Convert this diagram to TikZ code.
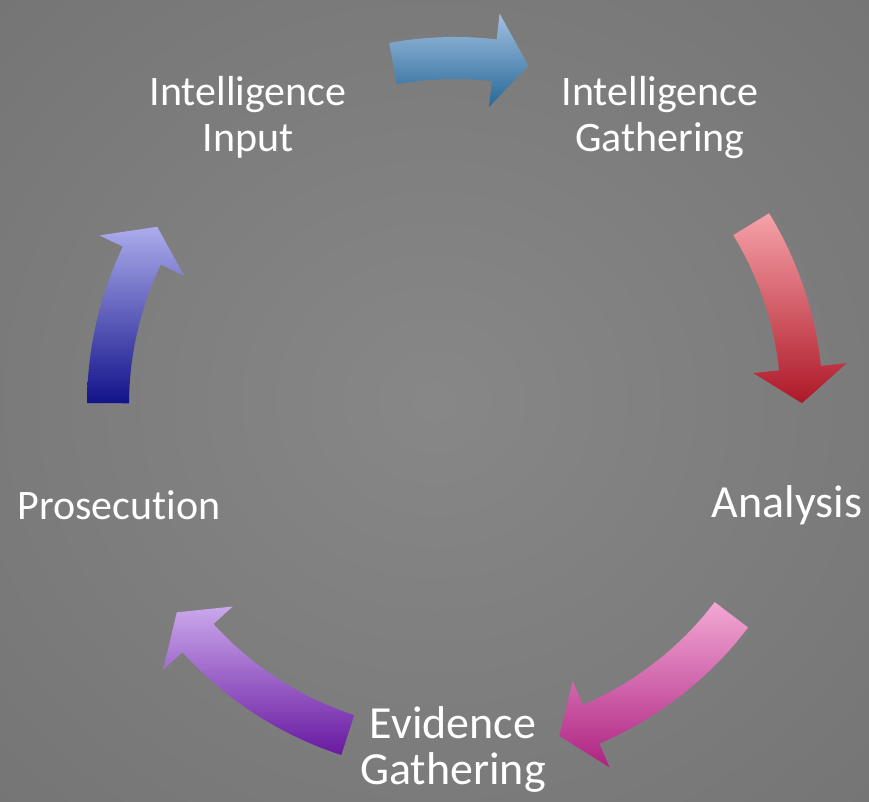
\documentclass[tikz,border=0pt]{standalone}
\usepackage{fontspec}
\usetikzlibrary{calc}
\usetikzlibrary{shadows}
\newfontfamily\cyclefont[Ligatures=NoCommon]{Carlito}
\definecolor{bgcentre}{gray}{0.53}
\definecolor{bgedge}{gray}{0.43}
\definecolor{bgcorner}{gray}{0.35}
\definecolor{blueA}{RGB}{162,192,226}
\definecolor{blueB}{RGB}{38,104,150}
\definecolor{redA}{RGB}{246,162,168}
\definecolor{redB}{RGB}{174,24,40}
\definecolor{pinkA}{RGB}{242,168,212}
\definecolor{pinkB}{RGB}{174,34,130}
\definecolor{lilacA}{RGB}{202,168,236}
\definecolor{lilacB}{RGB}{104,24,160}
\definecolor{navyA}{RGB}{172,172,236}
\definecolor{navyB}{RGB}{18,18,138}
\pgfdeclareradialshading{bgglow}{\pgfpoint{0bp}{0bp}}{color(0bp)=(bgcentre); color(50bp)=(bgedge); color(72bp)=(bgcorner)}

\tikzset{
 stage/.style={text=white,align=center,inner sep=0pt,font=\cyclefont\fontsize{42}{46}\selectfont},
 bigstage/.style={stage,font=\cyclefont\fontsize{46}{46}\selectfont},
 bent arrow/.style={drop shadow={opacity=.3,shadow xshift=3pt,shadow yshift=-3pt}}
}
% tail angle, head angle, tip angle, top colour, bottom colour
\newcommand{\cyclearrow}[5]{\path[bent arrow,top color=#4,bottom color=#5]
 (#1:368) arc[start angle=#1,end angle=#2,radius=368] -- (#2:394) -- (#3:347)
 -- (#2:300) -- (#2:326) arc[start angle=#2,end angle=#1,radius=326] -- cycle;}

\begin{document}
\begin{tikzpicture}[x=1pt,y=1pt]
\useasboundingbox (0,0) rectangle (869,802);
\shade[shading=bgglow] (0,0) rectangle (869,802);
\coordinate (c) at (455,397);
\begin{scope}[shift={(c)}]
\cyclearrow{100.3}{83.5}{77.8}{blueA}{blueB}
\cyclearrow{31.4}{6.1}{0.3}{redA}{redB}
\cyclearrow{-37.2}{-66.9}{-72.5}{pinkA}{pinkB}
\cyclearrow{-108}{-137.8}{-143.3}{lilacA}{lilacB}
\cyclearrow{179.7}{154.5}{149.1}{navyA}{navyB}
\end{scope}
\node[stage,anchor=base] (input) at (248,650) {Intelligence\\Input};
\node[stage,anchor=base] (gathering) at (660,650) {Intelligence\\Gathering};
\node[bigstage,anchor=base] (analysis) at (787,284) {Analysis};
\node[bigstage,anchor=base] (evidence) at (453,17) {Evidence\\Gathering};
\node[stage,anchor=base] (prosecution) at (119,282) {Prosecution};
\end{tikzpicture}
\end{document}
